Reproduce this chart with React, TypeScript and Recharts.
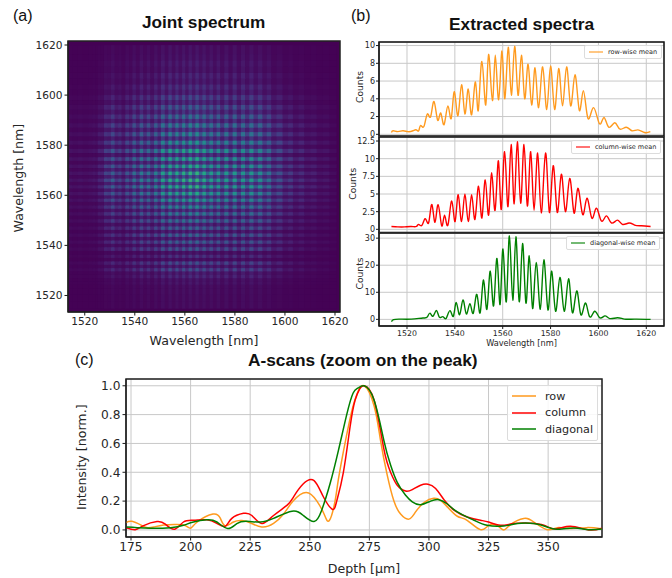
import React from 'react';
import {
  CartesianGrid,
  Legend,
  Line,
  LineChart,
  ReferenceArea,
  Scatter,
  ScatterChart,
  XAxis,
  YAxis,
} from 'recharts';

// spectra: sample wavelength + counts, peaks and valleys
const rowWl = [1513.5, 1514.2, 1516.2, 1518.3, 1520.4, 1522.5, 1523.9, 1524.9, 1525.7, 1527.1, 1528.5, 1529.9, 1531.3, 1532.8, 1534.1, 1535.5, 1537.1, 1538.5, 1539.8, 1541.3, 1542.8, 1544.2, 1545.6, 1547, 1548.6, 1549.8, 1551.3, 1552.9, 1554.1, 1555.7, 1556.9, 1558.3, 1559.7, 1560.9, 1562.3, 1563.6, 1565, 1566.4, 1567.8, 1569.2, 1570.6, 1572.1, 1573.5, 1575, 1576.7, 1578.4, 1580, 1581.7, 1583.4, 1585, 1586.7, 1588.4, 1590.2, 1592, 1593.7, 1595.6, 1597.9, 1600.4, 1602.3, 1604.3, 1606.8, 1608.9, 1611.6, 1614, 1616.5, 1619.3, 1621.7];
const rowCounts = [0.2, 0.4, 0.3, 0.4, 0.3, 0.4, 0.5, 0.4, 1.0, 0.9, 2.3, 2.0, 3.7, 1.6, 2.4, 1.1, 3.2, 1.8, 4.8, 2.1, 5.6, 2.3, 5.1, 2.2, 5.9, 2.7, 8.2, 3.3, 9.0, 3.8, 8.9, 3.9, 9.4, 4.0, 9.8, 4.4, 9.9, 4.4, 8.9, 4.0, 7.9, 3.3, 7.5, 3.0, 7.6, 2.8, 7.7, 2.8, 7.4, 3.2, 7.6, 3.2, 6.7, 2.7, 4.9, 1.8, 3.0, 1.2, 1.9, 0.8, 1.3, 0.6, 0.8, 0.4, 0.5, 0.2, 0.3];

const colWl = [1513.5, 1516.2, 1519, 1521.8, 1523.9, 1524.9, 1526.3, 1527.7, 1529.1, 1530.4, 1531.7, 1533, 1534.5, 1535.7, 1537.1, 1538.7, 1540.1, 1541.4, 1542.8, 1544.2, 1545.6, 1547, 1548.4, 1549.9, 1551.3, 1552.7, 1554.1, 1555.4, 1556.8, 1558.2, 1559.4, 1560.8, 1562.2, 1563.5, 1564.8, 1566.1, 1567.5, 1568.9, 1570.3, 1571.7, 1573.1, 1574.6, 1576.1, 1577.9, 1579.5, 1581.1, 1582.8, 1584.5, 1586.2, 1588, 1589.8, 1591.4, 1593.4, 1595.2, 1597.2, 1599.1, 1601.2, 1603.3, 1605.4, 1607.9, 1610, 1612.8, 1615.1, 1617.9, 1621.8];
const colCounts = [0.4, 0.35, 0.35, 0.4, 0.4, 0.7, 0.6, 1.5, 1.0, 3.5, 1.0, 3.5, 0.5, 2.0, 0.6, 4.0, 1.1, 4.9, 1.1, 5.0, 1.1, 4.9, 1.4, 6.1, 1.6, 7.0, 2.0, 8.0, 2.7, 9.7, 2.8, 11, 3.2, 12, 3.6, 12.4, 3.7, 12, 3.3, 11, 2.7, 10.8, 2.3, 10.8, 2.4, 9, 2.4, 7.8, 2.5, 7.2, 2.3, 5.8, 2.1, 4.4, 1.6, 3.0, 1.2, 1.9, 0.9, 1.3, 0.7, 0.9, 0.6, 0.5, 0.4];

const diagWl = [1513.5, 1514.4, 1516.9, 1521.8, 1526.7, 1528.5, 1529.6, 1530.9, 1532.3, 1533.5, 1535, 1536.4, 1538, 1539.4, 1540.6, 1542, 1543.4, 1544.8, 1546.3, 1547.7, 1549.2, 1550.6, 1552, 1553.4, 1554.8, 1556.2, 1557.6, 1558.9, 1560.1, 1561.5, 1562.8, 1564.2, 1565.5, 1566.9, 1568.3, 1569.7, 1571.1, 1572.5, 1574, 1575.7, 1577.2, 1578.9, 1580.4, 1582.1, 1583.9, 1585.7, 1587.5, 1589.1, 1590.9, 1592.6, 1594.5, 1596.3, 1598.4, 1600.5, 1602.7, 1604.7, 1607.9, 1610.9, 1615.1, 1621.8];
const diagCounts = [-0.8, -0.1, 0.1, 0.1, 0.5, 0.9, 2.3, 1.2, 3.3, 0.8, 1.0, 0.4, 3.2, 1.2, 6.2, 1.7, 7.2, 2, 5.8, 2.3, 9.2, 2.5, 14.5, 3.7, 17.8, 5, 22.5, 5.5, 26, 6.5, 30.8, 7, 30.5, 6.5, 28, 6, 23.5, 4, 21, 3.7, 22, 3.5, 17.8, 3, 15.5, 3, 15, 2.5, 10.5, 1.8, 6, 1, 3, 0.6, 1.3, 0.3, 0.6, 0.1, 0.1, 0];

// A-scans
const rowDepth = [172.9, 175.4, 179.6, 182, 184.5, 188.7, 194.3, 197.8, 200, 202.8, 209.4, 212.5, 214.5, 218, 221.5, 225, 229.9, 234.8, 239, 243, 248.5, 253, 256, 258.2, 260.6, 262, 265, 268, 270, 272.8, 277, 279.7, 282.5, 285.3, 288.1, 291.6, 294.4, 297.9, 302, 304.9, 307.7, 311.9, 316, 321.6, 325, 328.6, 331.4, 334.2, 339.8, 344, 349.6, 353.8, 359.4, 366.3, 372.6];
const rowIntensity = [0.05, 0.06, 0.03, 0.015, 0.02, 0.035, 0.038, 0.03, 0.012, 0.055, 0.11, 0.08, 0.03, 0.055, 0.065, 0.05, 0.02, 0.045, 0.11, 0.2, 0.26, 0.2, 0.11, 0.065, 0.2, 0.35, 0.62, 0.85, 0.95, 1.0, 0.86, 0.62, 0.38, 0.2, 0.11, 0.075, 0.125, 0.19, 0.22, 0.205, 0.16, 0.095, 0.067, 0.002, 0.03, 0.03, 0.0, 0.037, 0.08, 0.055, 0.002, 0.016, 0.01, 0.016, 0.007];

const colDepth = [173, 176.8, 180.3, 185.9, 189.4, 193.3, 197, 201.2, 206.8, 211, 214.5, 217.3, 222.2, 225.7, 229.9, 234.8, 240.4, 243.2, 247.3, 251.8, 255.7, 259.5, 261.3, 264.1, 266.9, 269, 271, 272.8, 277, 281.1, 283.9, 286.7, 290.2, 293, 296.5, 299.6, 302.8, 306.3, 310.5, 316, 321.6, 325, 330, 335.6, 342.6, 348.2, 353, 359.4, 367, 372.6];
const colIntensity = [0.015, 0.002, 0.03, 0.058, 0.04, 0.005, 0.055, 0.067, 0.07, 0.045, 0.025, 0.08, 0.115, 0.1, 0.045, 0.1, 0.17, 0.23, 0.32, 0.342, 0.23, 0.143, 0.2, 0.4, 0.715, 0.9, 0.98, 1.0, 0.9, 0.56, 0.4, 0.31, 0.27, 0.28, 0.31, 0.317, 0.287, 0.21, 0.137, 0.09, 0.067, 0.055, 0.032, 0.044, 0.046, 0.032, 0.007, 0.025, 0.0, 0.012];

const diagDepth = [173, 177.6, 183.2, 191.6, 197, 201.2, 206.8, 211, 215.6, 219.4, 223.6, 229.2, 234.8, 242.5, 247.3, 251.8, 255, 258.5, 262, 265.5, 268.2, 270.3, 272.8, 277, 281.1, 283.9, 286.7, 290.2, 293, 296.5, 300.7, 304.2, 307.7, 311.9, 318.9, 324.4, 331.4, 337, 344, 349.6, 353.8, 360.8, 367, 372.6];
const diagIntensity = [0.02, 0.016, 0.012, 0.016, 0.032, 0.055, 0.07, 0.055, 0.01, 0.044, 0.06, 0.055, 0.08, 0.13, 0.1, 0.058, 0.137, 0.32, 0.55, 0.8, 0.95, 0.985, 1.0, 0.9, 0.62, 0.45, 0.33, 0.24, 0.195, 0.175, 0.2, 0.21, 0.18, 0.125, 0.067, 0.032, 0.028, 0.044, 0.044, 0.02, 0.005, 0.014, 0.002, 0.007];

const heatTicks = [1520, 1540, 1560, 1580, 1600, 1620];
const specTicks = [1520, 1540, 1560, 1580, 1600, 1620];
const rowTicks = [0, 2, 4, 6, 8, 10];
const colTicks = [0, 2.5, 5, 7.5, 10, 12.5];
const diagTicks = [0, 10, 20, 30];
const depthTicks = [175, 200, 225, 250, 275, 300, 325, 350];
const intensityTicks = [0, 0.2, 0.4, 0.6, 0.8, 1];

const viridis = ['#440154', '#482475', '#414487', '#355f8d', '#2a788e', '#21918c', '#22a884', '#44bf70', '#7ad151', '#bddf26', '#fde725'];

const ORANGE = '#ff9a1e';
const RED = '#ff0000';
const GREEN = '#008000';
const INK = '#262626';
const FRAME = '#1c1c1c';
const GRID = '#c8c8c8';
const FONT = '"DejaVu Sans", sans-serif';
const TITLE_FONT = '"Liberation Sans", Arial, sans-serif';

const HEAT_W = 272;
const HEAT_H = 271;
const HEAT_X: [number, number] = [1513.3, 1622];
const HEAT_Y: [number, number] = [1513.4, 1621.6];

const zip = (xs: number[], ys: number[]) => xs.map((x, i) => ({ x, y: ys[i] }));

const hexToRgb = (h: string) => [1, 3, 5].map((i) => parseInt(h.slice(i, i + 2), 16));

function viridisColor(t: number) {
  const p = Math.min(Math.max(t, 0), 1) * (viridis.length - 1);
  const i = Math.min(Math.floor(p), viridis.length - 2);
  const a = hexToRgb(viridis[i]);
  const b = hexToRgb(viridis[i + 1]);
  const c = a.map((v, k) => Math.round(v + (b[k] - v) * (p - i)));
  return `rgb(${c[0]},${c[1]},${c[2]})`;
}

// half-way points between samples give each heatmap cell its extent
function cellSpans(wl: number[]) {
  return wl.map((w, i) => [
    i === 0 ? w : (wl[i - 1] + w) / 2,
    i === wl.length - 1 ? w : (wl[i + 1] + w) / 2,
  ]);
}

// joint spectrum: the picture shows a product of the row and column spectra of panel (b)
function buildHeatCells() {
  const xSpans = cellSpans(rowWl);
  const ySpans = cellSpans(colWl);
  const maxV = Math.max(...rowCounts) * Math.max(...colCounts);
  const cells = [];
  for (let j = 1; j < colWl.length - 1; j++) {
    for (let i = 1; i < rowWl.length - 1; i++) {
      cells.push({
        wx: rowWl[i],
        wy: colWl[j],
        x0: xSpans[i][0] - rowWl[i],
        x1: xSpans[i][1] - rowWl[i],
        y0: ySpans[j][0] - colWl[j],
        y1: ySpans[j][1] - colWl[j],
        fill: viridisColor(0.66 * Math.pow((rowCounts[i] * colCounts[j]) / maxV, 0.78)),
      });
    }
  }
  return cells;
}

const heatCells = buildHeatCells();
const pxPerNmX = HEAT_W / (HEAT_X[1] - HEAT_X[0]);
const pxPerNmY = HEAT_H / (HEAT_Y[1] - HEAT_Y[0]);

function HeatCell(props: any) {
  const { cx, cy, payload } = props;
  return (
    <rect
      x={cx + payload.x0 * pxPerNmX - 0.3}
      y={cy - payload.y1 * pxPerNmY - 0.3}
      width={(payload.x1 - payload.x0) * pxPerNmX + 0.6}
      height={(payload.y1 - payload.y0) * pxPerNmY + 0.6}
      fill={payload.fill}
    />
  );
}

function PlotLegend({ payload, colors, fontSize, lineWidth, rowHeight, gap, strokeWidth }: any) {
  return (
    <div
      style={{
        background: 'rgba(255,255,255,0.85)',
        border: '1px solid #dcdcdc',
        borderRadius: 2,
        padding: '2px 4px',
        boxSizing: 'border-box',
        fontFamily: FONT,
        fontSize,
        color: INK,
      }}
    >
      {(payload || []).map((item: any, i: number) => (
        <div key={item.value} style={{ display: 'flex', alignItems: 'center', height: rowHeight }}>
          <svg width={lineWidth} height={4} style={{ marginRight: gap, flex: 'none' }}>
            <line x1={0} x2={lineWidth} y1={2} y2={2} stroke={colors[i]} strokeWidth={strokeWidth} />
          </svg>
          <span style={{ whiteSpace: 'nowrap' }}>{item.value}</span>
        </div>
      ))}
    </div>
  );
}

function PanelText({ left, top, size, bold, children }: any) {
  return (
    <div
      style={{
        position: 'absolute',
        left,
        top,
        fontFamily: TITLE_FONT,
        fontSize: size,
        fontWeight: bold ? 700 : 400,
        color: '#111',
        whiteSpace: 'nowrap',
        lineHeight: 1,
      }}
    >
      {children}
    </div>
  );
}

const tickStyle = (fontSize: number) => ({ fontFamily: FONT, fontSize, fill: INK });
const labelStyle = (fontSize: number) => ({ fontFamily: FONT, fontSize, fill: INK });

type SpectrumPanelProps = {
  top: number;
  height: number;
  data: { x: number; y: number }[];
  domain: [number, number];
  ticks: number[];
  color: string;
  name: string;
  showX?: boolean;
  legendLeft: number;
  labelOffset: number;
  labelDy: number;
};

const SPEC_LEFT = 340;
const SPEC_Y_AXIS = 39;
const SPEC_PLOT_W = 285;

function SpectrumPanel({ top, height, data, domain, ticks, color, name, showX, legendLeft, labelOffset, labelDy }: SpectrumPanelProps) {
  const bottom = showX ? 24 : 0;
  // the panels touch, so leave room under the plot for the lowest tick label
  const spare = showX ? 1 : 6;
  return (
    <div style={{ position: 'absolute', left: SPEC_LEFT, top }}>
      <LineChart
        width={SPEC_Y_AXIS + SPEC_PLOT_W + 4}
        height={height + bottom + 1 + spare}
        margin={{ top: 1, right: 4, bottom: spare, left: 0 }}
      >
        <CartesianGrid stroke={GRID} strokeWidth={1} />
        <XAxis
          type="number"
          dataKey="x"
          domain={[1508.3, 1627.4]}
          ticks={specTicks}
          interval={0}
          height={bottom}
          hide={!showX}
          allowDataOverflow
          tickSize={3}
          tickMargin={1}
          stroke={FRAME}
          tick={tickStyle(7.8)}
          label={
            showX
              ? { value: 'Wavelength [nm]', position: 'insideBottom', offset: 4, style: labelStyle(8.2) }
              : undefined
          }
        />
        <YAxis
          type="number"
          domain={domain}
          ticks={ticks}
          interval={0}
          width={SPEC_Y_AXIS}
          allowDataOverflow
          tickSize={3}
          tickMargin={1}
          stroke={FRAME}
          tick={tickStyle(8)}
          label={{ value: 'Counts', angle: -90, position: 'insideLeft', offset: labelOffset, dy: labelDy, style: labelStyle(9.2) }}
        />
        <Line
          data={data}
          dataKey="y"
          name={name}
          type="natural"
          stroke={color}
          strokeWidth={1.4}
          dot={false}
          isAnimationActive={false}
        />
        <ReferenceArea
          x1={1508.3}
          x2={1627.4}
          y1={domain[0]}
          y2={domain[1]}
          fill="none"
          stroke="#111"
          strokeWidth={1.5}
          ifOverflow="visible"
        />
        <Legend
          layout="horizontal"
          verticalAlign="middle"
          align="center"
          itemSorter={null}
          wrapperStyle={{ left: legendLeft, top: 4, width: 'auto', bottom: 'auto' }}
          content={<PlotLegend colors={[color]} fontSize={6.5} lineWidth={14} rowHeight={8} gap={5} strokeWidth={1.1} />}
        />
      </LineChart>
    </div>
  );
}

export default function App() {
  return (
    <div style={{ position: 'absolute', left: 0, top: 0, width: 672, height: 578, background: '#fff', overflow: 'hidden' }}>
      <style>{'.heat-map .recharts-scatter{filter:blur(0.65px)}'}</style>

      <PanelText left={13} top={8} size={16}>(a)</PanelText>
      <PanelText left={142} top={14} size={17.2} bold>Joint spectrum</PanelText>
      <PanelText left={351} top={8} size={16}>(b)</PanelText>
      <PanelText left={449} top={16} size={17.3} bold>Extracted spectra</PanelText>
      <PanelText left={75} top={352} size={16}>(c)</PanelText>
      <PanelText left={248} top={352} size={17.3} bold>A-scans (zoom on the peak)</PanelText>

      {/* (a) joint spectrum */}
      <div className="heat-map" style={{ position: 'absolute', left: 0, top: 30 }}>
        <ScatterChart width={352} height={320} margin={{ top: 11, right: 12, bottom: 0, left: 0 }}>
          <CartesianGrid fill={viridis[0]} stroke="none" />
          <XAxis
            type="number"
            dataKey="wx"
            domain={HEAT_X}
            ticks={heatTicks}
            interval={0}
            height={38}
            allowDataOverflow
            tickSize={3.5}
            tickMargin={2}
            stroke={FRAME}
            tick={tickStyle(10.6)}
            label={{ value: 'Wavelength [nm]', position: 'insideBottom', offset: 5, style: labelStyle(12.6) }}
          />
          <YAxis
            type="number"
            dataKey="wy"
            domain={HEAT_Y}
            ticks={heatTicks}
            interval={0}
            width={68}
            allowDataOverflow
            tickSize={3.5}
            tickMargin={2}
            stroke={FRAME}
            tick={tickStyle(10.6)}
            label={{ value: 'Wavelength [nm]', angle: -90, position: 'insideLeft', offset: 19, dy: 56, style: labelStyle(12.6) }}
          />
          <Scatter data={heatCells} shape={HeatCell} isAnimationActive={false} />
          <ReferenceArea
            x1={HEAT_X[0]}
            x2={HEAT_X[1]}
            y1={HEAT_Y[0]}
            y2={HEAT_Y[1]}
            fill="none"
            stroke="#222"
            strokeWidth={1.5}
            ifOverflow="visible"
          />
        </ScatterChart>
      </div>

      {/* (b) extracted spectra */}
      <SpectrumPanel top={41} height={94} data={zip(rowWl, rowCounts)} domain={[-0.19, 10.4]} ticks={rowTicks} color={ORANGE} name="row-wise mean" legendLeft={244} labelOffset={20} labelDy={14} />
      <SpectrumPanel top={136} height={95.5} data={zip(colWl, colCounts)} domain={[-0.45, 13.07]} ticks={colTicks} color={RED} name="column-wise mean" legendLeft={231} labelOffset={13} labelDy={15} />
      <SpectrumPanel top={232} height={93} data={zip(diagWl, diagCounts)} domain={[-2.45, 31.9]} ticks={diagTicks} color={GREEN} name="diagonal-wise mean" legendLeft={226} labelOffset={20} labelDy={10} showX />

      {/* (c) A-scans */}
      <div style={{ position: 'absolute', left: 60, top: 370 }}>
        <LineChart width={560} height={207} margin={{ top: 9, right: 18, bottom: 0, left: 0 }}>
          <CartesianGrid stroke={GRID} strokeWidth={1} />
          <XAxis
            type="number"
            dataKey="x"
            domain={[172.9, 372.6]}
            ticks={depthTicks}
            interval={0}
            height={40}
            allowDataOverflow
            tickSize={3.5}
            tickMargin={2}
            stroke={FRAME}
            tick={tickStyle(12.2)}
            label={{ value: 'Depth [μm]', position: 'insideBottom', offset: 4, style: labelStyle(12.6) }}
          />
          <YAxis
            type="number"
            domain={[-0.049, 1.047]}
            ticks={intensityTicks}
            tickFormatter={(v: number) => v.toFixed(1)}
            interval={0}
            width={66}
            allowDataOverflow
            tickSize={3.5}
            tickMargin={2}
            stroke={FRAME}
            tick={tickStyle(12.2)}
            label={{ value: 'Intensity [norm.]', angle: -90, position: 'insideLeft', offset: 22, dy: 52, style: labelStyle(12.6) }}
          />
          <Line data={zip(rowDepth, rowIntensity)} dataKey="y" name="row" type="natural" stroke={ORANGE} strokeWidth={1.5} dot={false} isAnimationActive={false} />
          <Line data={zip(colDepth, colIntensity)} dataKey="y" name="column" type="natural" stroke={RED} strokeWidth={1.5} dot={false} isAnimationActive={false} />
          <Line data={zip(diagDepth, diagIntensity)} dataKey="y" name="diagonal" type="natural" stroke={GREEN} strokeWidth={1.5} dot={false} isAnimationActive={false} />
          <ReferenceArea x1={172.9} x2={372.6} y1={-0.049} y2={1.047} fill="none" stroke="#222" strokeWidth={1.5} ifOverflow="visible" />
          <Legend
            layout="horizontal"
            verticalAlign="middle"
            align="center"
            itemSorter={null}
            wrapperStyle={{ left: 447, top: 15, width: 'auto', bottom: 'auto' }}
            content={<PlotLegend colors={[ORANGE, RED, GREEN]} fontSize={11.2} lineWidth={24} rowHeight={16.6} gap={9} strokeWidth={1.5} />}
          />
        </LineChart>
      </div>
    </div>
  );
}
